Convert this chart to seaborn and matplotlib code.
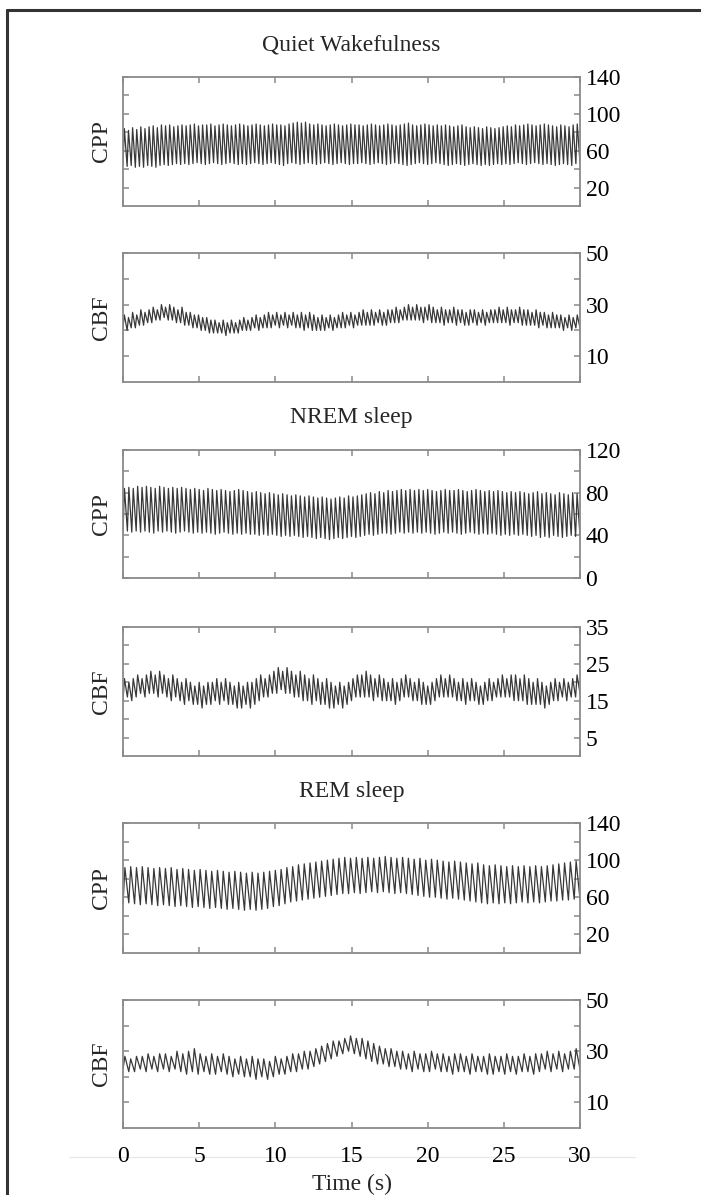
import matplotlib
matplotlib.use("Agg")
import matplotlib.pyplot as plt
from matplotlib.lines import Line2D
import numpy as np
import pandas as pd
import seaborn as sns

# per-beat systolic (peak) and diastolic (trough) values
qw_cpp_peak = [
    84, 82, 85, 83, 86, 84, 86, 87, 85, 88, 87, 88, 86, 87, 88, 87,
    88, 89, 87, 88, 88, 89, 87, 88, 89, 88, 87, 88, 89, 88, 87, 88,
    89, 88, 87, 88, 89, 88, 88, 87, 89, 90, 91, 90, 91, 89, 88, 89,
    88, 87, 88, 89, 88, 87, 88, 89, 88, 88, 87, 88, 89, 88, 87, 88,
    89, 88, 87, 88, 89, 90, 88, 87, 88, 89, 88, 87, 88, 87, 88, 87,
    86, 87, 88, 86, 85, 86, 85, 84, 86, 85, 84, 85, 86, 87, 86, 88,
    87, 88, 89, 88, 87, 88, 89, 88, 87, 86, 88, 87, 86, 88, 89, 88,
]
qw_cpp_trough = [
    45, 43, 44, 42, 43, 42, 44, 43, 42, 44, 45, 44, 45, 46, 45, 46,
    45, 46, 47, 46, 45, 46, 47, 46, 45, 46, 47, 46, 45, 46, 45, 46,
    47, 46, 45, 46, 47, 46, 45, 44, 46, 47, 46, 45, 46, 47, 46, 45,
    46, 47, 46, 45, 46, 47, 46, 45, 46, 46, 47, 46, 45, 46, 47, 46,
    45, 46, 47, 46, 45, 44, 45, 46, 47, 46, 45, 46, 47, 46, 45, 44,
    45, 46, 45, 44, 45, 46, 45, 44, 45, 44, 45, 46, 45, 46, 45, 46,
    47, 46, 45, 46, 47, 46, 45, 46, 45, 44, 45, 46, 45, 44, 46, 47,
]
qw_cbf_peak = [
    26, 25, 27, 26, 28, 27, 28, 29, 28, 30, 29, 30, 29, 28, 29, 27,
    27, 26, 26, 25, 25, 24, 24, 23, 24, 23, 24, 23, 24, 25, 24, 25,
    26, 25, 26, 27, 26, 27, 26, 27, 26, 27, 26, 27, 26, 27, 26, 25,
    26, 25, 26, 25, 26, 27, 26, 27, 26, 27, 28, 27, 28, 27, 28, 27,
    28, 28, 29, 28, 29, 30, 29, 30, 29, 29, 30, 29, 28, 29, 28, 28,
    29, 28, 28, 27, 28, 28, 27, 28, 27, 28, 28, 29, 28, 29, 28, 28,
    29, 28, 28, 27, 28, 27, 27, 26, 27, 26, 26, 25, 26, 25, 26, 26,
]
qw_cbf_trough = [
    21, 20, 21, 21, 22, 22, 23, 23, 24, 24, 25, 24, 24, 23, 23, 22,
    22, 21, 21, 20, 20, 19, 19, 19, 19, 18, 19, 19, 19, 20, 20, 20,
    21, 20, 21, 21, 21, 22, 21, 22, 21, 22, 21, 21, 20, 21, 20, 20,
    20, 20, 21, 20, 21, 21, 21, 22, 21, 22, 22, 22, 22, 22, 23, 22,
    22, 23, 23, 23, 24, 24, 24, 24, 24, 23, 24, 23, 23, 23, 22, 23,
    23, 22, 23, 22, 22, 23, 22, 23, 22, 23, 23, 23, 23, 23, 22, 23,
    23, 22, 22, 22, 22, 21, 22, 21, 21, 21, 21, 20, 21, 20, 21, 21,
]

nrem_cpp_peak = [
    84, 85, 84, 86, 85, 86, 85, 84, 86, 85, 84, 85, 84, 85, 84,
    83, 84, 83, 82, 84, 83, 82, 83, 82, 81, 82, 83, 82, 81, 80,
    81, 80, 79, 80, 79, 78, 79, 78, 77, 78, 77, 76, 77, 76, 75,
    76, 75, 74, 75, 76, 75, 77, 76, 77, 78, 79, 80, 79, 81, 80,
    82, 81, 82, 83, 82, 83, 82, 83, 82, 83, 82, 81, 82, 83, 82,
    82, 83, 82, 81, 82, 83, 82, 81, 82, 81, 82, 81, 80, 81, 80,
    81, 80, 79, 80, 81, 79, 80, 79, 78, 80, 79, 78, 80, 79, 80,
]
nrem_cpp_trough = [
    43, 44, 43, 44, 43, 44, 43, 42, 44, 43, 44, 43, 42, 43, 44,
    43, 42, 43, 42, 43, 42, 41, 42, 43, 42, 41, 42, 41, 42, 41,
    41, 40, 41, 40, 41, 40, 39, 40, 39, 40, 39, 38, 39, 38, 37,
    38, 37, 36, 37, 38, 37, 38, 39, 38, 39, 40, 41, 40, 41, 42,
    42, 41, 42, 43, 42, 43, 42, 43, 42, 43, 42, 41, 42, 43, 42,
    43, 42, 41, 42, 43, 42, 41, 42, 41, 42, 41, 40, 41, 40, 41,
    40, 41, 40, 39, 40, 38, 39, 38, 40, 39, 38, 39, 40, 39, 40,
]
nrem_cbf_peak = [
    21, 20, 21, 22, 21, 22, 23, 22, 23, 22, 21, 22, 21, 20, 21,
    20, 19, 20, 19, 20, 20, 21, 20, 21, 20, 19, 20, 19, 20, 20,
    21, 22, 21, 22, 23, 24, 23, 24, 23, 22, 23, 22, 21, 22, 21,
    20, 21, 20, 19, 20, 19, 20, 21, 22, 22, 23, 22, 21, 22, 21,
    20, 21, 20, 21, 22, 21, 20, 21, 20, 19, 20, 21, 22, 21, 22,
    21, 20, 21, 20, 21, 20, 19, 20, 21, 20, 21, 22, 21, 22, 22,
    21, 22, 21, 20, 21, 20, 19, 20, 21, 20, 21, 20, 21, 22, 22,
]
nrem_cbf_trough = [
    15, 16, 15, 16, 17, 16, 17, 17, 16, 17, 16, 15, 16, 15, 14,
    15, 14, 14, 13, 14, 14, 15, 14, 15, 14, 14, 13, 13, 14, 13,
    14, 15, 16, 16, 17, 17, 18, 17, 17, 16, 16, 15, 15, 14, 15,
    14, 14, 13, 13, 14, 13, 14, 15, 16, 16, 16, 16, 15, 16, 15,
    15, 15, 14, 15, 16, 16, 15, 15, 14, 14, 14, 15, 16, 16, 16,
    16, 15, 15, 14, 15, 15, 14, 14, 15, 15, 16, 16, 16, 16, 15,
    15, 15, 14, 14, 14, 14, 13, 14, 15, 15, 16, 15, 16, 16, 17,
]

rem_cpp_peak = [
    92, 93, 92, 93, 92, 91, 92, 91, 92, 90, 91, 90, 89, 90, 89, 88,
    89, 88, 87, 88, 87, 86, 87, 86, 87, 88, 89, 90, 92, 93, 95, 96,
    97, 98, 99, 100, 101, 102, 103, 102, 103, 102, 103, 102, 103, 104, 103, 102,
    103, 102, 101, 102, 100, 101, 100, 99, 98, 99, 98, 97, 96, 97, 95, 94,
    95, 94, 93, 94, 93, 94, 93, 94, 93, 94, 95, 96, 97, 98, 99, 100,
]
rem_cpp_trough = [
    53, 54, 53, 52, 53, 52, 51, 52, 51, 50, 51, 50, 49, 50, 49, 48,
    49, 48, 47, 48, 47, 46, 47, 46, 47, 48, 50, 51, 53, 55, 56, 57,
    58, 59, 60, 61, 62, 63, 64, 64, 65, 64, 65, 66, 65, 66, 65, 64,
    65, 64, 63, 62, 61, 60, 60, 59, 58, 59, 58, 57, 56, 55, 54, 53,
    54, 53, 54, 53, 54, 55, 54, 55, 54, 55, 56, 56, 57, 57, 58, 58,
]
rem_cbf_peak = [
    28, 27, 28, 28, 29, 28, 29, 29, 28, 30, 29, 30, 31, 29, 28, 29,
    28, 29, 28, 27, 28, 27, 28, 27, 27, 26, 28, 27, 28, 29, 29, 30,
    30, 31, 32, 33, 34, 34, 35, 36, 35, 35, 34, 33, 32, 31, 31, 30,
    30, 29, 30, 29, 29, 30, 29, 29, 28, 29, 29, 28, 29, 28, 28, 29,
    28, 28, 29, 28, 28, 29, 28, 29, 29, 30, 29, 30, 29, 30, 31, 30,
]
rem_cbf_trough = [
    23, 22, 22, 23, 22, 23, 22, 23, 22, 23, 22, 21, 22, 21, 22, 21,
    21, 22, 21, 20, 21, 20, 20, 19, 20, 19, 20, 21, 21, 22, 22, 23,
    23, 24, 25, 26, 27, 28, 29, 30, 29, 28, 27, 26, 25, 25, 24, 24,
    23, 23, 22, 23, 22, 22, 23, 22, 22, 21, 22, 22, 21, 22, 22, 21,
    21, 22, 21, 22, 21, 22, 22, 21, 22, 23, 22, 23, 22, 23, 23, 23,
]

state_titles = ["Quiet Wakefulness", "NREM sleep", "REM sleep"]
signal_names = ["CPP", "CBF"]
x_ticks = [0, 5, 10, 15, 20, 25, 30]
x_label = "Time (s)"

cpp_qw_ticks = [20, 40, 60, 80, 100, 120, 140]
cpp_qw_labels = ["20", "", "60", "", "100", "", "140"]
cbf_qw_ticks = [10, 20, 30, 40, 50]
cbf_qw_labels = ["10", "", "30", "", "50"]
cpp_nrem_ticks = [0, 20, 40, 60, 80, 100, 120]
cpp_nrem_labels = ["0", "", "40", "", "80", "", "120"]
cbf_nrem_ticks = [5, 10, 15, 20, 25, 30, 35]
cbf_nrem_labels = ["5", "", "15", "", "25", "", "35"]

panels = [
    (qw_cpp_peak, qw_cpp_trough, (0, 140), cpp_qw_ticks, cpp_qw_labels),
    (qw_cbf_peak, qw_cbf_trough, (0, 50), cbf_qw_ticks, cbf_qw_labels),
    (nrem_cpp_peak, nrem_cpp_trough, (0, 120), cpp_nrem_ticks, cpp_nrem_labels),
    (nrem_cbf_peak, nrem_cbf_trough, (0, 35), cbf_nrem_ticks, cbf_nrem_labels),
    (rem_cpp_peak, rem_cpp_trough, (0, 140), cpp_qw_ticks, cpp_qw_labels),
    (rem_cbf_peak, rem_cbf_trough, (0, 50), cbf_qw_ticks, cbf_qw_labels),
]


def beat_frame(peaks, troughs, duration=30.0):
    # trough at the start of every beat, peak a third of the way in
    n = len(peaks)
    starts = np.linspace(0, duration, n)
    period = duration / (n - 1)
    t = np.empty(2 * n)
    v = np.empty(2 * n)
    t[0::2] = starts
    t[1::2] = starts + 0.33 * period
    v[0::2] = troughs
    v[1::2] = peaks
    return pd.DataFrame({"t": t, "v": v})


sns.set_theme(style="ticks")
plt.rcParams["font.family"] = ["Liberation Serif", "DejaVu Serif"]
FS = 17
W, H = 701, 1195

fig = plt.figure(figsize=(W / 100, H / 100), dpi=100)

# axes boxes in pixels (top, bottom)
boxes = [(77, 206), (253, 382), (450, 578), (627, 756), (823, 953), (1000, 1128)]
left, right = 123, 580
title_y = [45, 418, 792]

axes = []
for i, ((peaks, troughs, ylim, yt, ylab), (top, bot)) in enumerate(zip(panels, boxes)):
    ax = fig.add_axes([left / W, 1 - bot / H, (right - left) / W, (bot - top) / H])
    df = beat_frame(peaks, troughs)
    sns.lineplot(data=df, x="t", y="v", ax=ax, color="#383838", lw=0.9,
                 estimator=None, sort=False)
    ax.set_xlim(0, 30)
    ax.set_ylim(*ylim)
    ax.set_xticks(x_ticks)
    ax.set_yticks(yt)
    ax.set_yticklabels(ylab)
    ax.set_xlabel("")
    ax.set_ylabel("")
    last = i == len(panels) - 1
    ax.tick_params(axis="both", direction="in", length=4, width=1.1, colors="#8a8a8a",
                   labelcolor="black", labelsize=FS, top=True, bottom=True,
                   left=True, right=True, labelleft=False, labelright=True,
                   labelbottom=last)
    ax.tick_params(axis="y", pad=4)
    ax.tick_params(axis="x", pad=13)
    for s in ax.spines.values():
        s.set_visible(True)
        s.set_color("#8a8a8a")
        s.set_linewidth(1.3)
    ax.text(-0.046, 0.5, signal_names[i % 2], rotation=90, ha="center", va="center",
            fontsize=FS, transform=ax.transAxes)
    axes.append(ax)

axes[-1].set_xlabel(x_label, fontsize=FS, labelpad=5)

for title, ty in zip(state_titles, title_y):
    fig.text((left + right) / 2 / W, 1 - ty / H, title, ha="center", va="center", fontsize=FS)

# faint rule behind the time tick labels and the page frame
fig.add_artist(Line2D([69 / W, 635 / W], [1 - 1157 / H] * 2, color="#e6e6e6", lw=0.8, zorder=0))
fig.add_artist(Line2D([7 / W, 7 / W], [0, 1 - 10 / H], color="#333333", lw=2.2))
fig.add_artist(Line2D([7 / W, 1], [1 - 10 / H] * 2, color="#333333", lw=2.2))

fig.savefig("out.png", dpi=100)
